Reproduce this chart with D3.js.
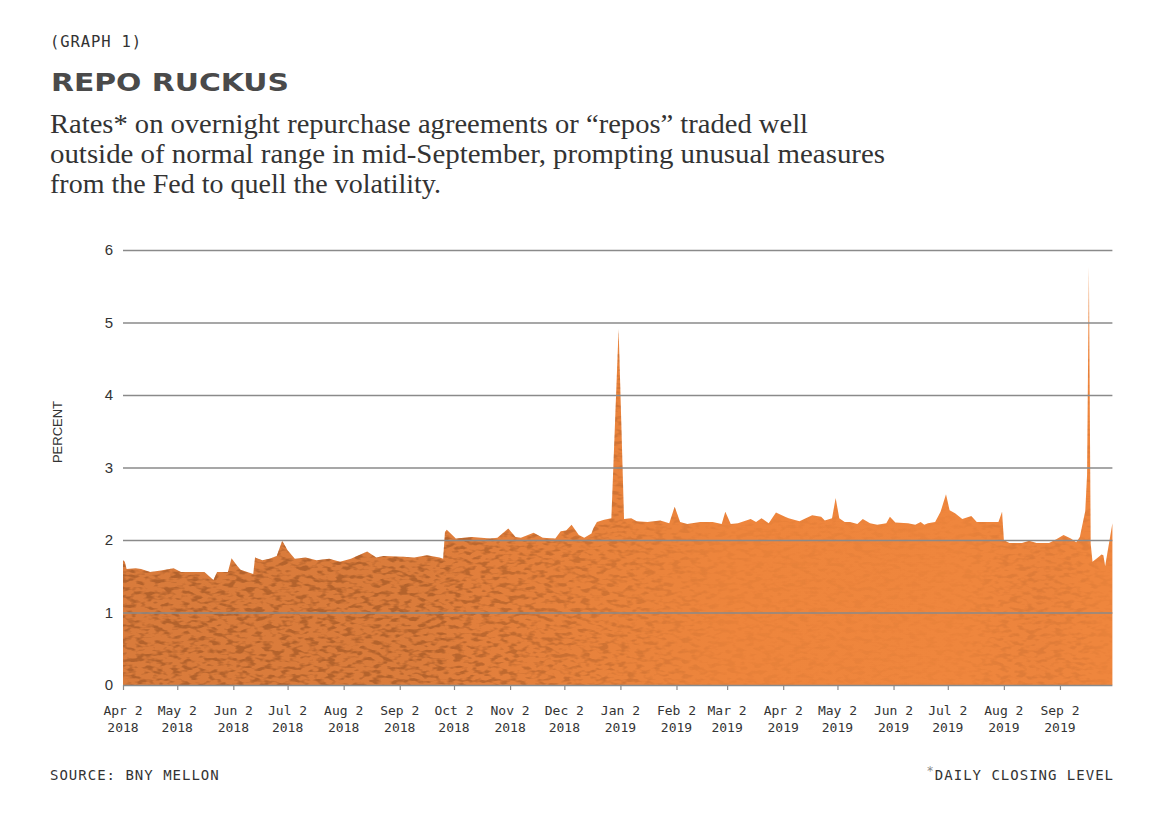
<!DOCTYPE html>
<html><head><meta charset="utf-8">
<script src="https://cdn.jsdelivr.net/npm/d3@7"></script>
<style>body{margin:0;background:#fff}</style>
</head><body><svg id="c" width="1164" height="821"></svg>
<script>
// ---- data (daily closing level, percent) ----
const dates = [
"2018-04-02","2018-04-03","2018-04-04","2018-04-09","2018-04-12","2018-04-17","2018-04-23","2018-04-30","2018-05-04","2018-05-10",
"2018-05-17","2018-05-22","2018-05-24","2018-05-30","2018-06-01","2018-06-04","2018-06-06","2018-06-13","2018-06-14","2018-06-18",
"2018-06-22","2018-06-26","2018-06-29","2018-07-02","2018-07-06","2018-07-12","2018-07-18","2018-07-25","2018-07-31","2018-08-06",
"2018-08-15","2018-08-20","2018-08-24","2018-09-04","2018-09-10","2018-09-17","2018-09-24","2018-09-26","2018-09-27","2018-09-28",
"2018-10-01","2018-10-03","2018-10-12","2018-10-22","2018-10-26","2018-11-01","2018-11-05","2018-11-08","2018-11-15","2018-11-20",
"2018-11-27","2018-11-30","2018-12-03","2018-12-06","2018-12-10","2018-12-13","2018-12-17","2018-12-18","2018-12-20","2018-12-24",
"2018-12-28","2019-01-01","2019-01-04","2019-01-08","2019-01-11","2019-01-17","2019-01-24","2019-01-29","2019-02-01","2019-02-04",
"2019-02-08","2019-02-15","2019-02-22","2019-02-27","2019-03-01","2019-03-04","2019-03-08","2019-03-15","2019-03-18","2019-03-21",
"2019-03-25","2019-03-29","2019-04-03","2019-04-05","2019-04-11","2019-04-18","2019-04-23","2019-04-25","2019-04-29","2019-05-01",
"2019-05-03","2019-05-06","2019-05-09","2019-05-13","2019-05-16","2019-05-20","2019-05-24","2019-05-29","2019-05-31","2019-06-03",
"2019-06-10","2019-06-14","2019-06-17","2019-06-19","2019-06-21","2019-06-25","2019-06-28","2019-07-01","2019-07-03","2019-07-06",
"2019-07-10","2019-07-15","2019-07-18","2019-07-25","2019-07-30","2019-08-01","2019-08-02","2019-08-05","2019-08-12","2019-08-16",
"2019-08-20","2019-08-27","2019-08-31","2019-09-04","2019-09-08","2019-09-11","2019-09-13","2019-09-16","2019-09-17","2019-09-18",
"2019-09-19","2019-09-20","2019-09-23","2019-09-25","2019-09-26","2019-09-27","2019-10-01"
];
const rates = [
1.72,1.70,1.60,1.61,1.60,1.56,1.58,1.61,1.56,1.56,
1.56,1.45,1.56,1.56,1.75,1.65,1.59,1.53,1.76,1.72,
1.74,1.78,1.99,1.86,1.74,1.76,1.72,1.74,1.70,1.74,
1.84,1.76,1.78,1.77,1.76,1.79,1.76,1.74,2.11,2.14,
2.07,2.02,2.04,2.02,2.03,2.16,2.04,2.03,2.10,2.03,
2.02,2.12,2.13,2.21,2.07,2.03,2.09,2.16,2.25,2.28,
2.30,4.91,2.29,2.30,2.26,2.25,2.27,2.23,2.46,2.25,
2.22,2.25,2.25,2.22,2.39,2.22,2.23,2.29,2.25,2.30,
2.23,2.38,2.32,2.30,2.26,2.34,2.32,2.27,2.30,2.58,
2.30,2.25,2.25,2.22,2.29,2.23,2.21,2.23,2.32,2.24,
2.23,2.21,2.25,2.21,2.23,2.25,2.39,2.63,2.41,2.37,
2.29,2.33,2.25,2.25,2.25,2.39,2.00,1.96,1.96,1.99,
1.96,1.96,2.01,2.07,2.02,1.97,2.04,2.40,2.90,5.77,
1.95,1.70,1.76,1.80,1.79,1.64,2.23
];
const xDomain = ["2018-04-02","2019-10-01"];
const tickDates = ["2018-04-02","2018-05-02","2018-06-02","2018-07-02","2018-08-02","2018-09-02","2018-10-02","2018-11-02","2018-12-02",
"2019-01-02","2019-02-02","2019-03-02","2019-04-02","2019-05-02","2019-06-02","2019-07-02","2019-08-02","2019-09-02"];
const yTicks = [0,1,2,3,4,5,6];
const subtitleLines = [
"Rates* on overnight repurchase agreements or \u201crepos\u201d traded well",
"outside of normal range in mid-September, prompting unusual measures",
"from the Fed to quell the volatility."
];

const parse = d3.utcParse("%Y-%m-%d");
const data = dates.map((d,i)=>({date:parse(d), v:rates[i]}));

const svg = d3.select("#c");
const L=123, R=1112.4, T=250, B=685;
const x = d3.scaleUtc().domain(xDomain.map(parse)).range([L,R]);
const y = d3.scaleLinear().domain([0,6]).range([B,T]);

// header
svg.append("text").attr("x",50).attr("y",46.5).text("(GRAPH 1)")
  .attr("font-family","DejaVu Sans Mono").attr("font-size",15.5).attr("letter-spacing",0.9).attr("fill","#333");
svg.append("text").attr("x",51).attr("y",90.5).text("REPO RUCKUS")
  .attr("font-family","DejaVu Sans").attr("font-weight","bold").attr("font-size",24)
  .attr("textLength",238).attr("lengthAdjust","spacingAndGlyphs").attr("fill","#4a4a4a");
const subLen=[758,835,391];
subtitleLines.forEach((t,i)=>{
  svg.append("text").attr("x",50).attr("y",133+i*30).text(t)
   .attr("font-family","Liberation Serif").attr("font-size",27)
   .attr("textLength",subLen[i]).attr("lengthAdjust","spacingAndGlyphs").attr("fill","#333");
});

// fill gradient + mottled texture to mimic the printed look
const defs = svg.append("defs");
const g = defs.append("linearGradient").attr("id","fillg").attr("gradientUnits","userSpaceOnUse")
  .attr("x1",L).attr("x2",R).attr("y1",0).attr("y2",0);
[[0,"#d97b3b"],[0.30,"#db7c3b"],[0.36,"#e27f3c"],[0.5,"#e9833c"],[0.62,"#ee853c"],[0.86,"#ef863d"],[0.93,"#ec843d"],[0.975,"#ef863d"],[1,"#ef863d"]]
  .forEach(([o,c])=>g.append("stop").attr("offset",o).attr("stop-color",c));
const mg = defs.append("linearGradient").attr("id","maskg").attr("gradientUnits","userSpaceOnUse")
  .attr("x1",L).attr("x2",R).attr("y1",0).attr("y2",0);
[[0,1],[0.32,1],[0.5,0.5],[0.6,0.15],[0.84,0.08],[0.9,0.3],[0.97,0.25],[1,0.1]]
  .forEach(([o,a])=>mg.append("stop").attr("offset",o).attr("stop-color","#fff").attr("stop-opacity",a));
defs.append("mask").attr("id","texm").attr("maskUnits","userSpaceOnUse")
  .attr("x",L).attr("y",T).attr("width",R-L).attr("height",B-T)
  .append("rect").attr("x",L).attr("y",T).attr("width",R-L).attr("height",B-T).attr("fill","url(#maskg)");
const f = defs.append("filter").attr("id","spots").attr("filterUnits","userSpaceOnUse")
  .attr("color-interpolation-filters","sRGB")
  .attr("x",L).attr("y",T).attr("width",R-L).attr("height",B-T);
f.append("feTurbulence").attr("type","fractalNoise").attr("baseFrequency","0.11 0.24").attr("numOctaves",2).attr("seed",7);
f.append("feColorMatrix").attr("type","matrix")
  .attr("values","0 0 0 0 0.52  0 0 0 0 0.27  0 0 0 0 0.11  5 0 0 0 -2.4");

const area = d3.area().x(d=>x(d.date)).y0(y(0)).y1(d=>y(d.v));
defs.append("clipPath").attr("id","areaclip").append("path").datum(data).attr("d",area);
svg.append("path").datum(data).attr("d",area).attr("fill","url(#fillg)");
svg.append("g").attr("clip-path","url(#areaclip)").attr("mask","url(#texm)").attr("opacity",0.45)
  .append("rect").attr("x",L).attr("y",T).attr("width",R-L).attr("height",B-T).attr("filter","url(#spots)");

// y axis with grid lines
const yAxis = svg.append("g").attr("transform",`translate(${L},0)`)
  .call(d3.axisLeft(y).tickValues(yTicks).tickFormat(d3.format("d")).tickSize(-(R-L)).tickPadding(10));
yAxis.select(".domain").remove();
yAxis.selectAll(".tick line").attr("stroke","#8a8a8a").attr("stroke-width",1.5);
yAxis.selectAll(".tick text").attr("font-family","Liberation Sans").attr("font-size",15).attr("fill","#333");

// x axis ticks
const xAxis = svg.append("g").attr("transform",`translate(0,${B})`)
  .call(d3.axisBottom(x).tickValues(tickDates.map(parse)).tickSize(5).tickFormat(""));
xAxis.select(".domain").remove();
xAxis.selectAll(".tick line").attr("stroke","#8a8a8a").attr("stroke-width",1.2);
const fm = d3.utcFormat("%b %-d"), fy = d3.utcFormat("%Y");
const lbl = svg.append("g").attr("font-family","DejaVu Sans Mono").attr("font-size",13).attr("fill","#333").attr("text-anchor","middle");
tickDates.map(parse).forEach(d=>{
  lbl.append("text").attr("x",x(d)).attr("y",715).text(fm(d));
  lbl.append("text").attr("x",x(d)).attr("y",732).text(fy(d));
});

// y label
svg.append("text").attr("transform","translate(62,432) rotate(-90)").attr("text-anchor","middle")
  .attr("font-family","Liberation Sans").attr("font-size",13).attr("fill","#333").text("PERCENT");

// footer
svg.append("text").attr("x",50).attr("y",780).text("SOURCE: BNY MELLON")
  .attr("font-family","DejaVu Sans Mono").attr("font-size",14).attr("letter-spacing",1).attr("fill","#333");
const ft = svg.append("text").attr("x",1114).attr("y",780).attr("text-anchor","end")
  .attr("font-family","DejaVu Sans Mono").attr("font-size",14).attr("letter-spacing",1).attr("fill","#333");
ft.append("tspan").attr("fill","#888").attr("dy",-5).attr("font-size",12).text("*");
ft.append("tspan").attr("dy",5).text("DAILY CLOSING LEVEL");
</script></body></html>
